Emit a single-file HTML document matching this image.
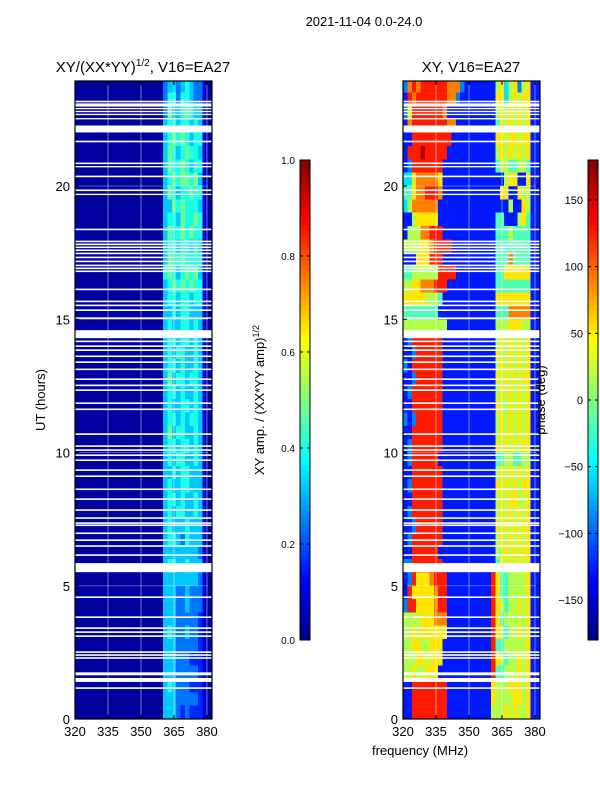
<!DOCTYPE html>
<html><head><meta charset="utf-8">
<style>
html,body{margin:0;padding:0;background:#fff;}
svg{display:block;font-family:"Liberation Sans","DejaVu Sans",sans-serif;}
</style></head>
<body>
<svg id="fig" width="600" height="800" viewBox="0 0 600 800" xmlns="http://www.w3.org/2000/svg">
<rect width="600" height="800" fill="#fff"/>
<text x="364" y="26" font-size="13" text-anchor="middle">2021-11-04 0.0-24.0</text>
<text x="143" y="72" font-size="15" text-anchor="middle">XY/(XX*YY)<tspan dy="-6" font-size="10">1/2</tspan><tspan dy="6">, V16=EA27</tspan></text>
<text x="471" y="72" font-size="15" text-anchor="middle">XY, V16=EA27</text>
<g id="left"></g>
<g id="right"></g>
<g id="axes"></g>
<text transform="translate(45,400) rotate(-90)" font-size="13" text-anchor="middle">UT (hours)</text>
<text x="420" y="755" font-size="13" text-anchor="middle">frequency (MHz)</text>
<text transform="translate(264,400) rotate(-90)" font-size="13" text-anchor="middle">XY amp. / (XX*YY amp)<tspan dy="-5" font-size="9">1/2</tspan></text>
<text transform="translate(545,400) rotate(-90)" font-size="13" text-anchor="middle">phase (deg)</text>
</svg>
<script>
const freqTicks=[320,335,350,365,380];
const hourTicks=[0,5,10,15,20];
const ampTicks=[0.0,0.2,0.4,0.6,0.8,1.0];
const ampTickLabels=["0.0","0.2","0.4","0.6","0.8","1.0"];
const phaseTicks=[-150,-100,-50,0,50,100,150];
const phaseTickLabels=["\u2212150","\u2212100","\u221250","0","50","100","150"];
// amplitude grid rows: top row = 23.5-24h, each 0.5h, 31 cols of 2 MHz from 320 MHz
const ampRows=[
"0000000000000000000034434543310","0000000000000000000035535543310","0000000000000000000036445654410","0000000000000000000045545545410",
"0000000000000000000045656545510","0000000000000000000046545655410","0000000000000000000046556545510","0000000000000000000045656656410",
"0000000000000000000046545565510","0000000000000000000044656555410","0000000000000000000045546556510","1000000000000000000046556565510",
"0000000000000000000045545545410","0000000000000000000046556555510","0000000000000000000056545656410","0000000000000000000045656565510",
"0000000000000000000045545545510","0000000000000000000044545544410","0000000000000000000045445545410","0000000000000000000045545545410",
"0000000000000000000045455445410","0000000000000000000045545445410","0000000000000000000046455455410","0000000000000000000045545445410",
"0000000000000000000045445545410","0000000000000000000045545455410","0000000000000000000046455445410","0000000000000000000045545545410",
"0000000000000000000045455445410","0000000000000000000044545544410","0000000000000000000045445544410","0000000000000000000045545445410",
"0000000000000000000045455445410","0000000000000000000045444544410","0000000000000000000045543544410","0000000000000000000044444444310",
"0000000000000000000045544544410","0000000000000000000044444444310","0000000000000000000044433433310","0000000000000000000044433433310",
"0000000000000000000044433333210","0000000000000000000045433433210","0000000000000000000044433333210","0000000000000000000044433322210",
"0000000000000000000044433333210","0000000000000000000045433322210","0000000000000000000044433333210","0000000000000000000044432322210"];
// phase grid rows: digit d -> -180+(d+0.5)*36 deg
const phaseRows=[
"2787888888777211111115635625611","1878888888772111111116635656611","2688888887111111111115656565611","1788888888771111111114656565611",
"1188888888811111111116656656611","1888988888111111111115656565611","1288888881111111111114554455411","3367777761111111111111156611611",
"4467788871111111111111661165511","3577777711111111111111115116511","1156666611111111111114411156411","1555778881111111111114445444411",
"5555667888811111111114444444411","1116668881111111111114447444411","4455555588881111111114466666611","5566777888111111111114444444411",
"6666655541111111111116666666611","4444444411111111111114447777711","5555555555111111111115556665511","1288888881111111111115656565611",
"1128888881111111111116556565611","2188888881111111111115656565611","1128888881111111111116565656611","1288888881111111111115656565611",
"1188888881111111111116556565611","2128888881111111111115656565611","1188888881111111111115656565611","1288888881111111111116565656611",
"1288888811111111111114455445511","1188888881111111111115656565611","1288888881111111111116565656611","1188888881111111111115656655611",
"1288888881111111111115656565611","1128888881111111111116565656611","1288888881111111111115656565611","1188888811111111111115565656611",
"2288888881111111111114656565611","1286667888111111111186445555611","1866666788111111111186445555611","2886666788111111111186545565611",
"5555666777111111111186455555611","5565666666111111111186545565611","5566556661111111111184455555611","5556656661111111111186545565611",
"5565566611111111111184455565611","1188888888111111111165556665611","1188888888111111111165555665611","1188888888111111111155565655611"];
// flagged (blank) time ranges in hours
const flagStart=[23.14,22.98,22.88,22.77,22.66,22.50,22.01,21.64,20.82,20.70,20.33,19.81,19.66,18.34,17.89,17.78,17.67,17.56,17.44,17.29,17.14,16.99,16.88,16.77,16.09,15.64,15.49,15.31,15.01,14.29,14.14,13.96,13.81,13.58,13.36,13.09,12.72,12.49,12.31,11.82,11.59,10.66,10.21,10.06,9.87,9.68,9.31,9.08,8.59,8.22,7.81,7.51,7.32,7.24,6.94,6.68,6.46,6.12,5.51,4.54,3.79,3.38,3.23,3.08,2.48,2.37,2.26,1.64,1.39,1.13];
const flagEnd  =[23.20,23.10,22.93,22.82,22.71,22.55,22.27,21.70,20.88,20.75,20.39,19.87,19.71,18.40,17.95,17.84,17.73,17.62,17.50,17.35,17.20,17.05,16.94,16.83,16.15,15.70,15.55,15.37,15.07,14.59,14.20,14.02,13.87,13.64,13.42,13.15,12.78,12.55,12.37,11.88,11.65,10.72,10.27,10.12,9.93,9.74,9.37,9.14,8.65,8.28,7.87,7.57,7.38,7.30,7.00,6.74,6.52,6.18,5.85,4.60,3.85,3.44,3.29,3.14,2.54,2.43,2.32,1.75,1.54,1.19];

const NS="http://www.w3.org/2000/svg";
const F0=320,F1=382.3,H0=0,H1=23.94,PW=137,PY0=81,PY1=719;
const panels={left:75,right:403};
function xs(x0,f){return x0+(f-F0)/(F1-F0)*PW;}
function ys(h){return PY1-(h-H0)/(H1-H0)*(PY1-PY0);}
function cl(v){return Math.max(0,Math.min(1,v));}
function jet(v){v=cl(v);const r=cl(Math.min(4*v-1.5,-4*v+4.5)),g=cl(Math.min(4*v-0.5,-4*v+3.5)),b=cl(Math.min(4*v+0.5,-4*v+2.5));return `rgb(${Math.round(r*255)},${Math.round(g*255)},${Math.round(b*255)})`;}
function mk(tag,attrs,parent){const e=document.createElementNS(NS,tag);for(const k in attrs)e.setAttribute(k,attrs[k]);parent.appendChild(e);return e;}

function drawHeat(gid,x0,rows,norm){
  const g=document.getElementById(gid);
  rows.forEach((row,i)=>{
    const hTop=Math.min(H1,24-i*0.5),hBot=24-(i+1)*0.5;
    for(let c=0;c<row.length;c++){
      const f0=F0+c*2,f1=Math.min(F1,F0+(c+1)*2);
      const d=parseInt(row[c]);
      const r=mk('rect',{x:xs(x0,f0),y:ys(hTop),width:xs(x0,f1)-xs(x0,f0)+0.3,height:ys(hBot)-ys(hTop)+0.3,fill:jet(norm(d)),'shape-rendering':'crispEdges'},g);
      
      
    }
  });
  flagStart.forEach((s,k)=>{
    const r=mk('rect',{x:x0,y:ys(flagEnd[k]),width:PW,height:ys(s)-ys(flagEnd[k]),fill:'#fff'},g);
    
    
  });
  freqTicks.forEach(f=>{const l=mk('line',{x1:xs(x0,f),x2:xs(x0,f),y1:PY0,y2:PY1,stroke:'rgba(255,255,255,0.45)','stroke-width':1},g);
    });
  hourTicks.forEach(h=>{const l=mk('line',{x1:x0,x2:x0+PW,y1:ys(h),y2:ys(h),stroke:'rgba(255,255,255,0.35)','stroke-width':1},g);
    });
}
drawHeat('left',panels.left,ampRows,d=>d===0?0.03:d*0.08);
drawHeat('right',panels.right,phaseRows,d=>(d+0.5)/10);

const ax=document.getElementById('axes');
for(const key in panels){
  const x0=panels[key];
  const fr=mk('rect',{x:x0,y:PY0,width:PW,height:PY1-PY0,fill:'none',stroke:'#000','stroke-width':1.2},ax);
  
  
  freqTicks.forEach(f=>{
    const x=xs(x0,f);
    mk('line',{x1:x,x2:x,y1:PY1,y2:PY1-4,stroke:'#000'},ax);
    mk('line',{x1:x,x2:x,y1:PY0,y2:PY0+4,stroke:'#000'},ax);
    const t=mk('text',{x:x,y:PY1+17,'font-size':13,'text-anchor':'middle'},ax);t.textContent=f;
    
    
  });
  hourTicks.forEach(h=>{
    const y=ys(h);
    mk('line',{x1:x0,x2:x0+4,y1:y,y2:y,stroke:'#000'},ax);
    mk('line',{x1:x0+PW,x2:x0+PW-4,y1:y,y2:y,stroke:'#000'},ax);
    const t=mk('text',{x:x0-5,y:y+5,'font-size':13,'text-anchor':'end'},ax);t.textContent=h;
    
    
  });
}
function colorbar(x,name,vmin,vmax,ticks,labels,fs){
  const top=160,bot=640,n=96;
  for(let i=0;i<n;i++){
    const r=mk('rect',{x:x,y:bot-(i+1)*(bot-top)/n,width:10,height:(bot-top)/n+0.5,fill:jet((i+0.5)/n),'shape-rendering':'crispEdges'},ax);
    
    
  }
  const fr=mk('rect',{x:x,y:top,width:10,height:bot-top,fill:'none',stroke:'#000','stroke-width':1},ax);
  
  
  ticks.forEach((v,i)=>{
    const y=bot-(v-vmin)/(vmax-vmin)*(bot-top);
    mk('line',{x1:x,x2:x+3,y1:y,y2:y,stroke:'#000'},ax);
    mk('line',{x1:x+10,x2:x+7,y1:y,y2:y,stroke:'#000'},ax);
    const t=mk('text',{x:x-5,y:y+4,'font-size':fs,'text-anchor':'end'},ax);t.textContent=labels[i];
    
    
  });
}
colorbar(300,'amplitude-colorbar',0,1,ampTicks,ampTickLabels,10);
colorbar(588,'phase-colorbar',-180,180,phaseTicks,phaseTickLabels,11);
</script>
</body></html>
